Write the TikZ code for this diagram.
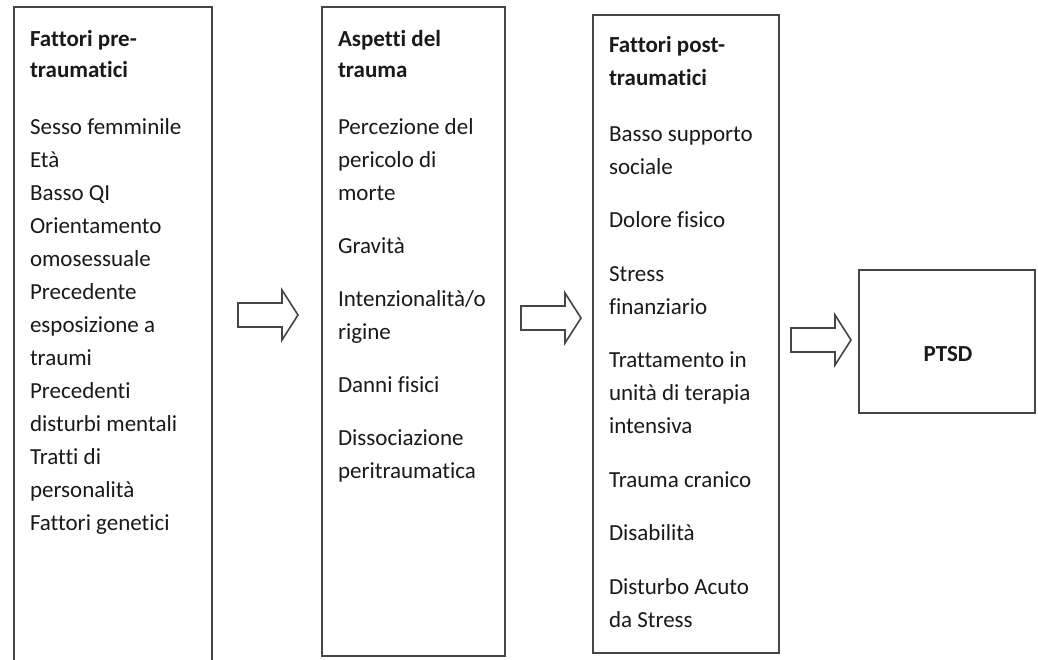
\documentclass[tikz,border=0pt]{standalone}
\usepackage{fontspec}
\setmainfont{Carlito}[Ligatures=NoCommon]
\definecolor{boxline}{HTML}{454545}
\definecolor{txt}{HTML}{1A1A1A}
\begin{document}
\begin{tikzpicture}[x=1pt,y=-1pt,
  frame/.style={draw=boxline, line width=1.6pt, inner sep=0pt, outer sep=0pt, anchor=north west},
  txtblock/.style={anchor=north west, inner sep=0pt, outer sep=0pt, align=left, text=txt,
                   font=\fontsize{23}{33}\selectfont},
  arrowline/.style={draw=boxline, line width=1.6pt, line join=miter},
  blockarrow/.pic={\draw[arrowline] (-30,-12) -- (14,-12) -- (14,-25) -- (30,0) -- (14,25) -- (14,12) -- (-30,12) -- cycle;}
]
\useasboundingbox (0,0) rectangle (1038,659);
\clip (0,0) rectangle (1038,659);
\fill[white] (0,0) rectangle (1038,659);

% boxes
\node[frame, minimum width=198pt, minimum height=700pt] (b1) at (14,7) {};
\node[frame, minimum width=183pt, minimum height=649pt] (b2) at (322,7) {};
\node[frame, minimum width=186pt, minimum height=638pt] (b3) at (593,15) {};
\node[frame, minimum width=176pt, minimum height=143pt] (b4) at (859,270) {};

% texts
\node[txtblock] (t1) at (30,16) {\rule{0pt}{30pt}\textbf{Fattori pre-}\\[-2pt]\textbf{traumatici}\\[24pt]
Sesso femminile\\Età\\Basso QI\\Orientamento\\omosessuale\\Precedente\\esposizione a\\traumi\\
Precedenti\\disturbi mentali\\Tratti di\\personalità\\Fattori genetici};

\node[txtblock] (t2) at (338,16) {\rule{0pt}{30pt}\textbf{Aspetti del}\\[-2pt]\textbf{trauma}\\[24pt]
Percezione del\\pericolo di\\morte\\[20pt]Gravità\\[20pt]Intenzionalità/o\\rigine\\[20pt]
Danni fisici\\[20pt]Dissociazione\\peritraumatica};

\node[txtblock] (t3) at (609,22) {\rule{0pt}{30pt}\textbf{Fattori post-}\\\textbf{traumatici}\\[23pt]
Basso supporto\\sociale\\[20.5pt]Dolore fisico\\[20.5pt]Stress\\finanziario\\[20.5pt]
Trattamento in\\unità di terapia\\intensiva\\[20.5pt]Trauma cranico\\[20.5pt]Disabilità\\[20.5pt]
Disturbo Acuto\\da Stress};

\node[anchor=base, inner sep=0pt, text=txt, font=\fontsize{23}{33}\selectfont\bfseries] (p) at (948,361) {PTSD};

% block arrows between boxes
\coordinate (a1) at (268,315);
\coordinate (a2) at (551,318);
\coordinate (a3) at (821,340);
\pic at (a1) {blockarrow};
\pic at (a2) {blockarrow};
\pic at (a3) {blockarrow};
\end{tikzpicture}
\end{document}
